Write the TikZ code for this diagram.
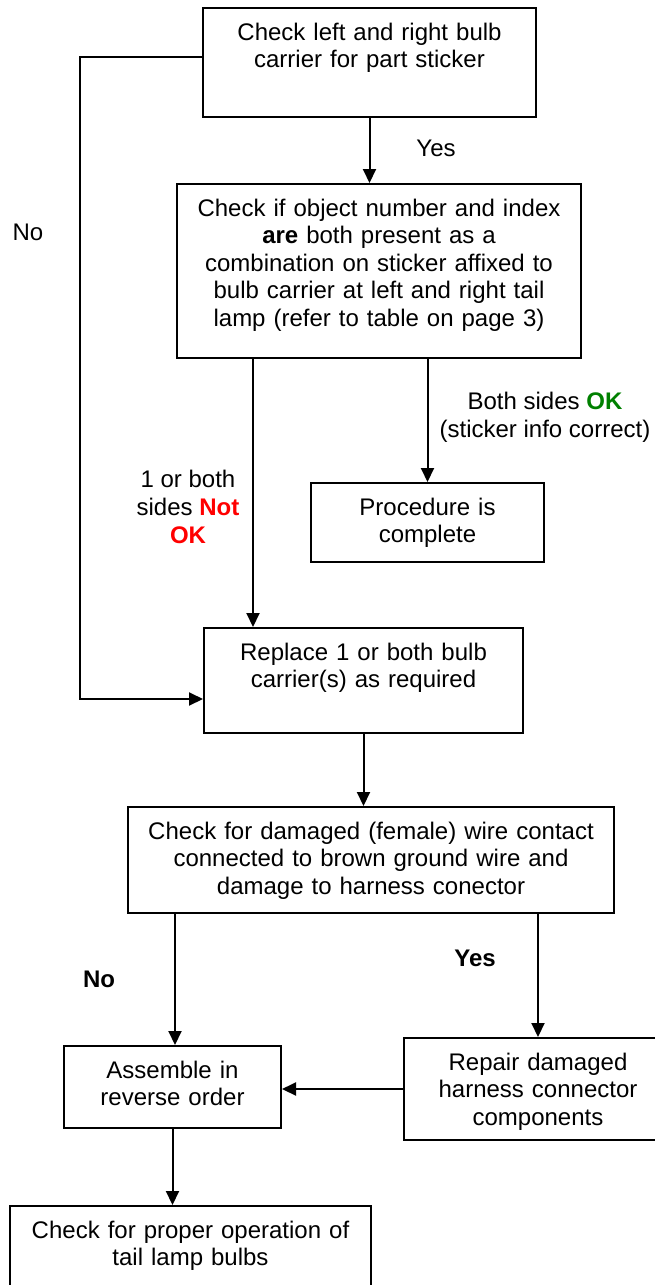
\documentclass[tikz,border=0pt]{standalone}
\usepackage{fontspec}
\setmainfont{Liberation Sans}
\usepackage{tikz}
\usetikzlibrary{arrows.meta}
\definecolor{notok}{RGB}{255,0,0}
\definecolor{okgreen}{RGB}{0,128,0}
\tikzstyle{block} = [rectangle, draw=black, line width=1pt, inner xsep=3pt, inner ysep=0pt, align=center, text height=16pt, anchor=north west, font=\fontsize{12}{13.8}\selectfont]
\tikzstyle{note} = [align=center, inner sep=0pt, font=\fontsize{12}{13.8}\selectfont]
\tikzstyle{arrow} = [line width=1pt, -{Triangle[length=7pt, width=6.5pt]}]
\begin{document}
\begin{tikzpicture}[x=0.5pt, y=-0.5pt]
		\useasboundingbox (0,0) rectangle (654,1285);
		\node (CheckSticker) [block, text width=160.5pt, text depth=38.5pt] at (202,7) {Check left and right bulb\\carrier for part sticker};
		\node (CheckIndex) [block, text width=196pt, text depth=71pt] at (176,183) {Check if object number and index\\\textbf{are} both present as a\\combination on sticker affixed to\\bulb carrier at left and right tail\\lamp (refer to table on page 3)};
		\node (Complete) [block, text width=110.5pt, text depth=23.5pt] at (310,482) {Procedure is\\complete};
		\node (Replace) [block, text width=153.5pt, text depth=36.5pt] at (203,627) {Replace 1 or both bulb\\carrier(s) as required};
		\node (Inspect) [block, text width=237pt, text depth=37pt] at (127,806) {Check for damaged (female) wire contact\\connected to brown ground wire and\\damage to harness conector};
		\node (Assemble) [block, text width=102.5pt, text depth=25pt] at (63,1045) {Assemble in\\reverse order};
		\node (Repair) [block, text width=128pt, text depth=35pt] at (403,1037) {Repair damaged\\harness connector\\components};
		\node (Operation) [block, text width=174.5pt, text depth=29pt] at (9,1205) {Check for proper operation of\\tail lamp bulbs};
		\node (YesTop) [note] at (436,148) {Yes};
		\node (NoLeft) [note] at (28,232) {No};
		\node (NotOKLabel) [note] at (188,507) {1 or both\\sides \textcolor{notok}{\textbf{Not}}\\\textcolor{notok}{\textbf{OK}}};
		\node (OKLabel) [note] at (545,417) {Both sides \textcolor{okgreen}{\textbf{OK}}\\(sticker info correct)};
		\node (NoBold) [note] at (99,979) {\textbf{No}};
		\node (YesBold) [note] at (475,958) {\textbf{Yes}};
		\coordinate (NoTop) at (80,57);
		\coordinate (NoBottom) at (80,699);
		\coordinate (NotOKRail) at (253,600);
		\coordinate (NoRail) at (175,1000);
		\draw [arrow] (CheckSticker.south) -- (CheckSticker.south |- CheckIndex.north);
		\draw [arrow] (CheckSticker.west |- NoTop) -- (NoTop) -- (NoBottom) -- (Replace.west |- NoBottom);
		\draw [arrow] (CheckIndex.south -| NotOKRail) -- (Replace.north -| NotOKRail);
		\draw [arrow] (CheckIndex.south -| Complete.north) -- (Complete.north);
		\draw [arrow] (Replace.south) -- (Replace.south |- Inspect.north);
		\draw [arrow] (Inspect.south -| NoRail) -- (Assemble.north -| NoRail);
		\draw [arrow] (Inspect.south -| Repair.north) -- (Repair.north);
		\draw [arrow] (Repair.west) -- (Repair.west -| Assemble.east);
		\draw [arrow] (Assemble.south) -- (Assemble.south |- Operation.north);
\end{tikzpicture}
\end{document}
